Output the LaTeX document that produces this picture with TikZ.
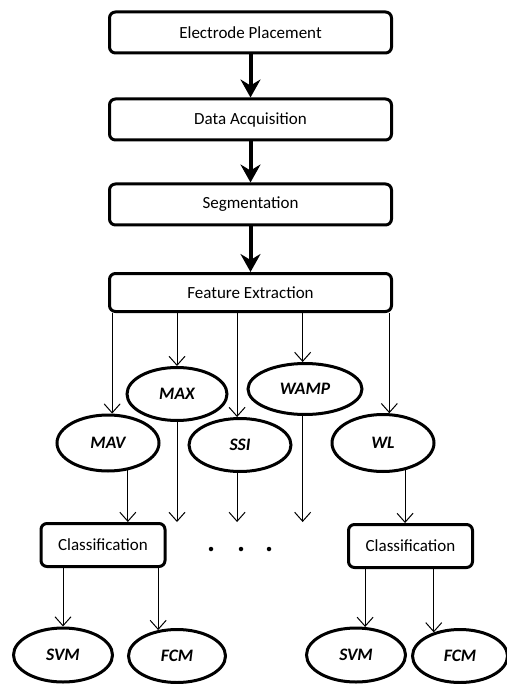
\documentclass[tikz,border=0pt]{standalone}
\usepackage{fontspec}
\setmainfont{Carlito}
\usetikzlibrary{shapes.geometric,arrows.meta}

\begin{document}
\begin{tikzpicture}[x=1pt, y=1pt]
	\tikzstyle{stage} = [draw, line width=3pt, rounded corners=6pt, fill=white, minimum width=282pt, minimum height=41pt, inner sep=0pt, font=\fontsize{17}{20}\selectfont]
	\tikzstyle{cls} = [stage, minimum width=124pt, minimum height=43pt]
	\tikzstyle{feat} = [draw, ellipse, line width=3pt, fill=white, inner sep=0pt, minimum width=102pt, minimum height=54pt, font=\fontsize{17.5}{20}\selectfont\bfseries\itshape]
	\tikzstyle{flow} = [line width=4pt, -{Stealth[length=18pt, width=20pt, inset=6pt]}]
	\tikzstyle{link} = [line width=1pt, -{Straight Barb[length=9pt, width=16pt, line width=1pt]}]
	\tikzstyle{dot} = [circle, fill=black, minimum size=4.5pt, inner sep=0pt]
	\useasboundingbox (0,0) rectangle (506,-684);
	% main steps
	\node[stage] (ep) at (250.5, -32.5) {Electrode Placement};
	\node[stage] (da) at (250.5, -119.5) {Data Acquisition};
	\node[stage] (seg) at (250.5, -204.5) {Segmentation};
	\node[stage, minimum height=38pt] (fe) at (250.5, -292.5) {Feature Extraction};
	% features
	\node[feat, minimum height=56pt] (mav) at (108, -443) {MAV};
	\node[feat, minimum width=100pt, minimum height=53pt] (max) at (177, -394) {MAX};
	\node[feat, minimum height=53pt] (ssi) at (240, -445) {SSI};
	\node[feat, minimum width=114pt, minimum height=51pt] (wamp) at (305, -389) {WAMP};
	\node[feat, minimum height=57pt] (wl) at (383, -443) {WL};
	% classifiers
	\node[cls] (cls1) at (103, -545) {Classification};
	\node[cls] (cls2) at (410.5, -546) {Classification};
	\node[feat, minimum width=99pt] (svm1) at (63, -655) {SVM};
	\node[feat, minimum width=97pt, minimum height=53pt] (fcm1) at (177, -656) {FCM};
	\node[feat, minimum width=99pt] (svm2) at (356, -655) {SVM};
	\node[feat, minimum width=95pt, minimum height=53pt] (fcm2) at (460, -656) {FCM};
	\node[dot] (d1) at (211, -549) {};
	\node[dot] (d2) at (241, -549) {};
	\node[dot] (d3) at (269, -549) {};
	\coordinate (maxend) at (max.south |- cls1.north);
	\coordinate (ssiend) at (ssi.-96 |- cls1.north);
	\coordinate (wampend) at (wamp.-95 |- cls1.north);
	% edges
	\draw[flow] (ep)--(da);
	\draw[flow] (da)--(seg);
	\draw[flow] (seg)--(fe);
	\draw[link] (fe.south -| mav.82)--(mav.82);
	\draw[link] (fe.south -| max.north)--(max.north);
	\draw[link] (fe.south -| ssi.96)--(ssi.96);
	\draw[link] (fe.south -| wamp.95)--(wamp.95);
	\draw[link] (fe.south -| wl.78)--(wl.78);
	\draw[link] (mav.-54)--(mav.-54 |- cls1.north);
	\draw[link] (max.south)--(maxend);
	\draw[link] (ssi.-96)--(ssiend);
	\draw[link] (wamp.-95)--(wampend);
	\draw[link] (wl.-51)--(wl.-51 |- cls2.north);
	\draw[link] (cls1.south -| svm1.north)--(svm1.north);
	\draw[link] (cls1.south -| fcm1.126)--(fcm1.126);
	\draw[link] (cls2.south -| svm2.72)--(svm2.72);
	\draw[link] (cls2.south -| fcm2.138)--(fcm2.138);
\end{tikzpicture}
\end{document}
